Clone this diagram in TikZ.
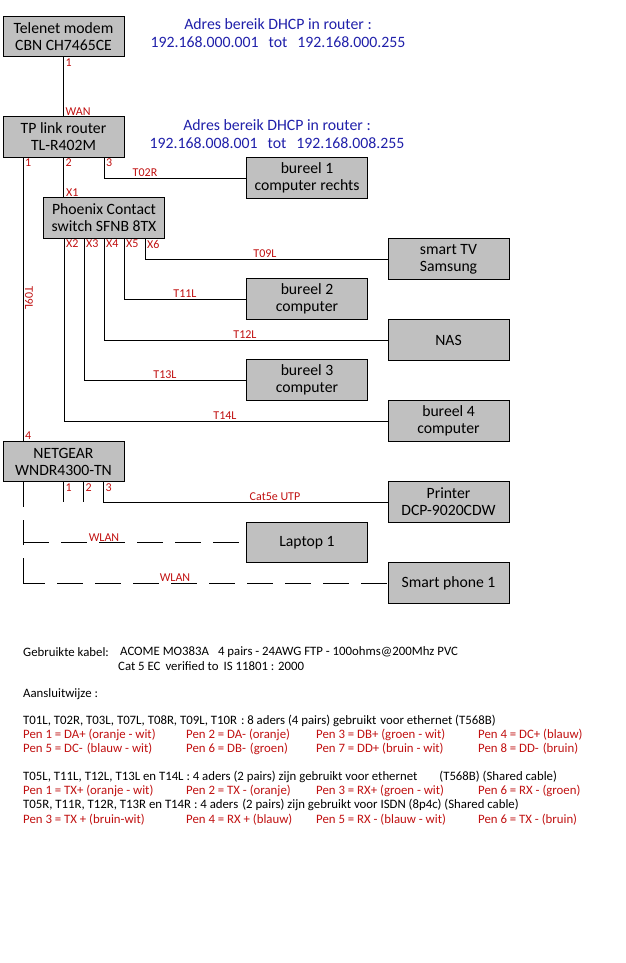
\documentclass[tikz,border=0pt]{standalone}
\usepackage{fontspec}
\setmainfont{Carlito}
\usepackage{xcolor}
\definecolor{boxgray}{RGB}{192,192,192}
\definecolor{netblue}{RGB}{32,32,170}
\definecolor{portred}{RGB}{192,16,16}

\newcommand{\boxfont}{\fontsize{15.7}{17}\selectfont}
\newcommand{\dhcpfont}{\fontsize{15.8}{17.5}\selectfont}
\newcommand{\portfont}{\fontsize{12}{13}\selectfont}
\newcommand{\notefont}{\fontsize{12.8}{14}\selectfont}

\tikzset{
  device/.style={draw, line width=0.9pt, fill=boxgray, minimum width=121pt,
    minimum height=40.5pt, align=center, inner sep=1pt, font=\boxfont},
  portlbl/.style={text=portred, font=\portfont, inner sep=1pt},
  dhcp/.style={text=netblue, align=center, font=\dhcpfont},
  note/.style={anchor=west, inner sep=0pt, font=\notefont},
  pen/.style={note, text=portred},
  wire/.style={line width=0.9pt},
  wlan/.style={wire, dash pattern=on 26pt off 12pt}
}

\begin{document}
\begin{tikzpicture}[x=1pt, y=-1pt]
    \path[use as bounding box] (0,0) rectangle (625,963);

    % Devices
    \node[device] (modem) at (63.5,36.5) {Telenet modem\\CBN CH7465CE};
    \node[device] (router) at (63.5,137) {TP link router\\TL-R402M};
    \node[device] (bureel1) at (307,178) {bureel 1\\computer rechts};
    \node[device] (switch) at (104,218) {Phoenix Contact\\switch SFNB 8TX};
    \node[device] (tv) at (448.5,259) {smart TV\\Samsung};
    \node[device] (bureel2) at (307,299) {bureel 2\\computer};
    \node[device] (nas) at (448.5,340) {NAS};
    \node[device] (bureel3) at (307,380) {bureel 3\\computer};
    \node[device] (bureel4) at (448.5,421) {bureel 4\\computer};
    \node[device] (netgear) at (63.5,461.5) {NETGEAR\\WNDR4300-TN};
    \node[device] (printer) at (448.5,502) {Printer\\DCP-9020CDW};
    \node[device] (laptop) at (307,542.5) {Laptop 1};
    \node[device] (phone) at (448.5,583) {Smart phone 1};

    % DHCP ranges
    \node[dhcp] (dhcp0) at (278,33) {Adres bereik DHCP in router :\\
      192.168.000.001\hspace{10pt}tot\hspace{10pt}192.168.000.255};
    \node[dhcp] (dhcp8) at (277,134) {Adres bereik DHCP in router :\\
      192.168.008.001\hspace{10pt}tot\hspace{10pt}192.168.008.255};

    % Modem -> router
    \draw[wire] (modem.south) -- (router.north);
    \node[portlbl, anchor=north west] (m1) at ([xshift=1]modem.south) {1};
    \node[portlbl, anchor=south west] (wan) at ([xshift=1]router.north) {WAN};

    % Router ports
    \draw[wire] ([xshift=-40.5]router.south) -- ([xshift=-40.5]netgear.north);
    \draw[wire] (router.south) -- (router.south |- switch.north);
    \draw[wire] ([xshift=40.5]router.south) |- (bureel1.west);
    \foreach \p/\dx in {1/-40.5, 2/0, 3/40.5}
      \node[portlbl, anchor=north west] (r\p) at ([xshift=\dx+1]router.south) {\p};
    \node[portlbl, anchor=south west] (x1) at ([xshift=-39]switch.north) {X1};
    \node[portlbl, anchor=south west] (n4) at ([xshift=-39.5]netgear.north) {4};
    \node[portlbl, anchor=south] (t02r) at (145,0 |- bureel1.west) {T02R};
    \node[portlbl, rotate=-90] (t09v) at (29,298) {T09L};

    % Switch ports
    \foreach \p/\dx/\dev/\cab/\lx in {2/-40/bureel4/T14L/225, 3/-20/bureel3/T13L/165,
        4/0/nas/T12L/245, 5/20/bureel2/T11L/185, 6/41/tv/T09L/265} {
      \draw[wire] ([xshift=\dx]switch.south) |- (\dev.west);
      \node[portlbl, anchor=north west] (x\p) at ([xshift=\dx+1]switch.south) {X\p};
      \node[portlbl, anchor=south] (c\p) at (\lx,0 |- \dev.west) {\cab};
    }

    % Netgear ports
    \foreach \p/\dx in {1/0, 2/20} {
      \coordinate (n\p end) at ([xshift=\dx,yshift=-20]netgear.south);
      \draw[wire] ([xshift=\dx]netgear.south) -- (n\p end);
    }
    \draw[wire] ([xshift=40]netgear.south) |- (printer.west);
    \foreach \p/\dx in {1/0, 2/20, 3/40}
      \node[portlbl, anchor=north west] (n\p) at ([xshift=\dx+1]netgear.south) {\p};
    \node[portlbl, anchor=south] (cat5) at (275,0 |- printer.west) {Cat5e UTP};

    % Wireless
    \coordinate (w1) at ([xshift=-40.5]netgear.south |- laptop.west);
    \coordinate (w2) at ([xshift=-40.5]netgear.south |- phone.west);
    \draw[wlan, dash pattern=on 25pt off 13pt] ([xshift=-40.5]netgear.south) -- (w2);
    \draw[wlan] (w1) -- (laptop.west);
    \draw[wlan, dash phase=4pt] (w2) -- (phone.west);
    \node[portlbl, anchor=south] (wlan1) at (104,0 |- laptop.west) {WLAN};
    \node[portlbl, anchor=south] (wlan2) at (175,0 |- phone.west) {WLAN};

    % Cable notes
    \node[note] (kabel) at (23,652) {Gebruikte kabel:};
    \node[note] (acome) at (120,652) {ACOME MO383A\hspace{9pt}4 pairs - 24AWG FTP - 100ohms@200Mhz PVC};
    \node[note] (cat) at (118,666) {Cat 5 EC\hspace{5pt}verified to\hspace{5pt}IS 11801 : 2000};
    \node[note] (aansl) at (23,694) {Aansluitwijze :};
    \node[note] (grp1) at (23,721) {T01L, T02R, T03L, T07L, T08R, T09L, T10R\hspace{4pt}: 8 aders (4 pairs) gebruikt\hspace{4pt}voor ethernet (T568B)};
    \node[note] (grp2) at (23,777) {T05L, T11L, T12L, T13L en T14L : 4 aders (2 pairs) zijn gebruikt voor ethernet\hspace{22pt}(T568B) (Shared cable)};
    \node[note] (grp3) at (23,805) {T05R, T11R, T12R, T13R en T14R : 4 aders\hspace{4pt}(2 pairs) zijn gebruikt voor ISDN (8p4c) (Shared cable)};

    % Pin assignments
    \foreach \y/\a/\b/\c/\d in {
        735/{Pen 1 = DA+ (oranje - wit)}/{Pen 2 = DA- (oranje)}/{Pen 3 = DB+ (groen - wit)}/{Pen 4 = DC+ (blauw)},
        749/{Pen 5 = DC-\hspace{4pt}(blauw - wit)}/{Pen 6 = DB-\hspace{4pt}(groen)}/{Pen 7 = DD+ (bruin - wit)}/{Pen 8 = DD-\hspace{4pt}(bruin)},
        791/{Pen 1 = TX+ (oranje - wit)}/{Pen 2 = TX - (oranje)}/{Pen 3 = RX+ (groen - wit)}/{Pen 6 = RX - (groen)},
        820/{Pen 3 = TX + (bruin-wit)}/{Pen 4 = RX + (blauw)}/{Pen 5 = RX - (blauw - wit)}/{Pen 6 = TX - (bruin)}} {
      \node[pen] (pa\y) at (23,\y) {\a};
      \node[pen] (pb\y) at (186,\y) {\b};
      \node[pen] (pc\y) at (316,\y) {\c};
      \node[pen] (pd\y) at (478,\y) {\d};
    }
\end{tikzpicture}
\end{document}
